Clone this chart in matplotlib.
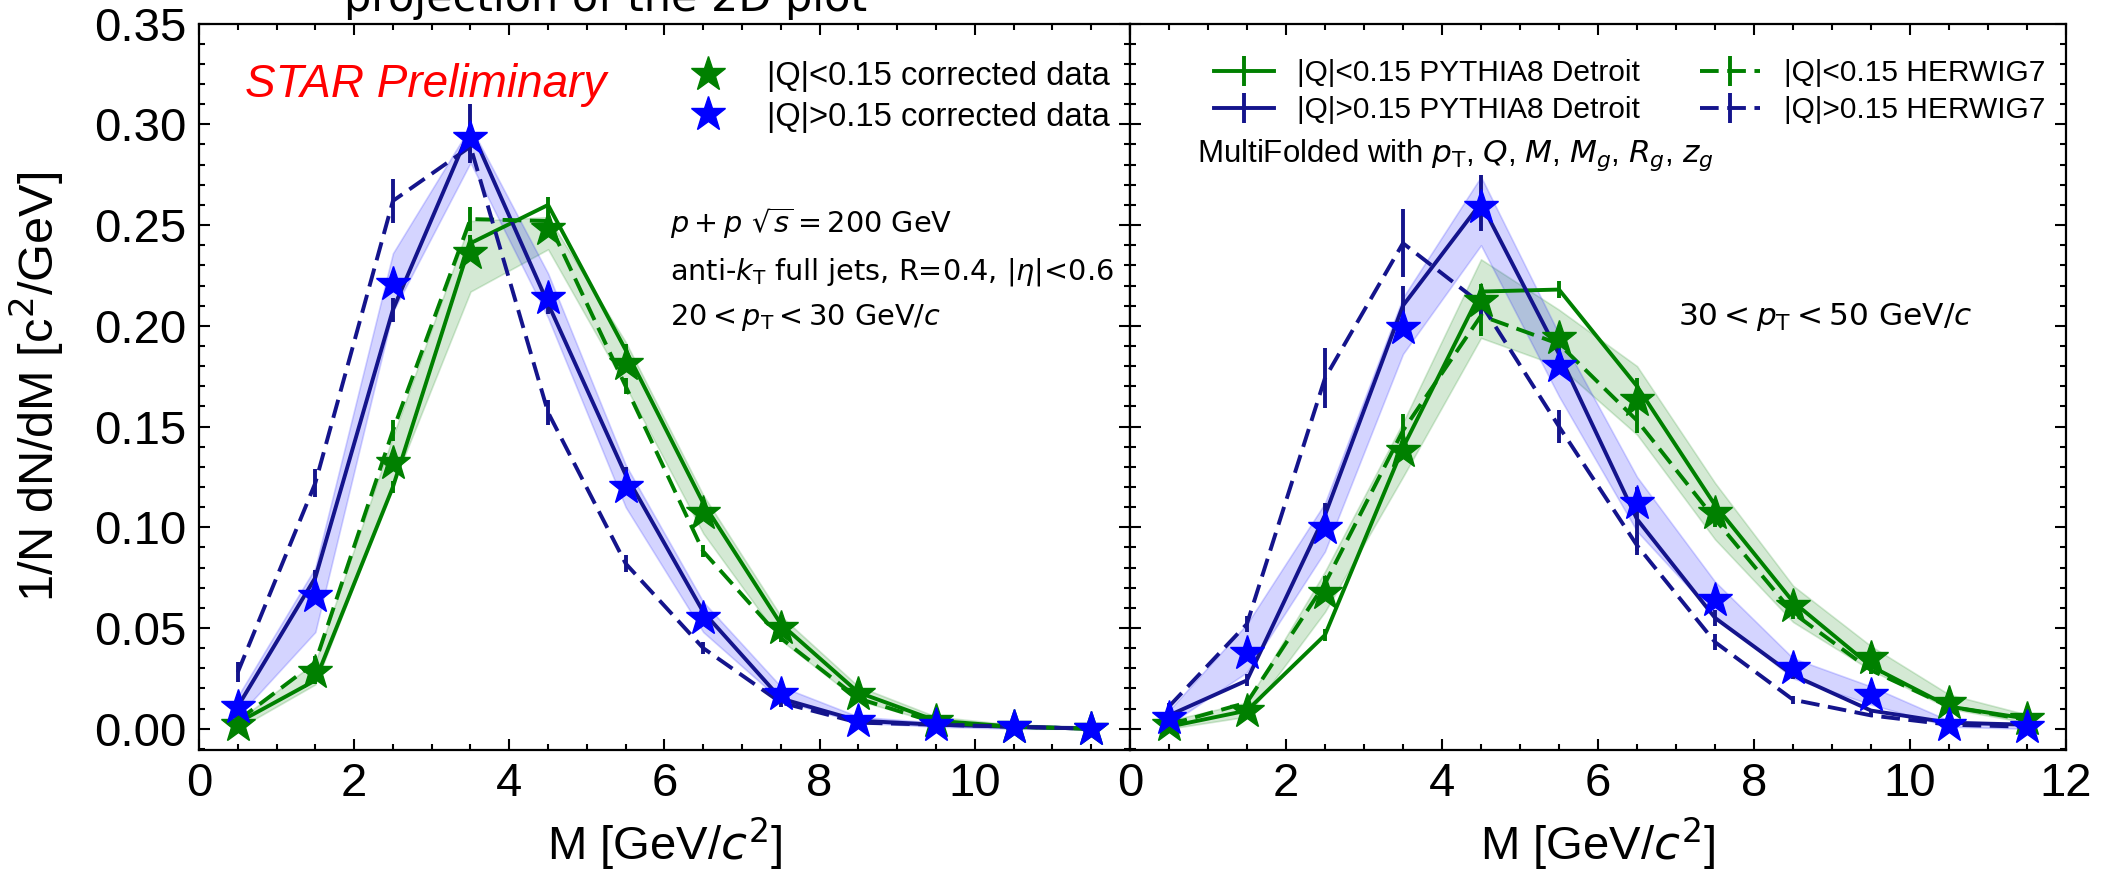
import numpy as np
import matplotlib
matplotlib.use("Agg")
import matplotlib.pyplot as plt
from matplotlib.ticker import MultipleLocator

plt.rcParams['font.family'] = ['Liberation Sans', 'DejaVu Sans']
plt.rcParams['mathtext.fontset'] = 'dejavusans'

# bin centres of M [GeV/c^2]
m_bins = [0.5, 1.5, 2.5, 3.5, 4.5, 5.5, 6.5, 7.5, 8.5, 9.5, 10.5, 11.5]

# ---- 20 < pT < 30 GeV/c ----
lo_data_20 = [0.002, 0.028, 0.132, 0.236, 0.248, 0.181, 0.107, 0.050, 0.017, 0.004, 0.001, 0.000]
lo_band_dn_20 = [0.000, 0.022, 0.121, 0.217, 0.238, 0.170, 0.097, 0.044, 0.014, 0.003, 0.000, 0.000]
lo_band_up_20 = [0.004, 0.033, 0.145, 0.252, 0.254, 0.192, 0.116, 0.056, 0.021, 0.006, 0.002, 0.001]
hi_data_20 = [0.011, 0.066, 0.221, 0.293, 0.214, 0.120, 0.055, 0.017, 0.004, 0.002, 0.001, 0.000]
hi_band_dn_20 = [0.006, 0.048, 0.207, 0.281, 0.204, 0.110, 0.048, 0.014, 0.003, 0.001, 0.000, 0.000]
hi_band_up_20 = [0.016, 0.080, 0.236, 0.299, 0.226, 0.131, 0.063, 0.021, 0.006, 0.003, 0.002, 0.001]

lo_py8_20 = [0.003, 0.024, 0.120, 0.241, 0.260, 0.188, 0.112, 0.052, 0.018, 0.004, 0.001, 0.000]
lo_py8_err_20 = [0.001, 0.002, 0.003, 0.004, 0.004, 0.003, 0.003, 0.002, 0.001, 0.001, 0.0005, 0.0003]
lo_hw7_20 = [0.004, 0.033, 0.148, 0.253, 0.252, 0.170, 0.088, 0.045, 0.015, 0.003, 0.001, 0.000]
lo_hw7_err_20 = [0.001, 0.003, 0.005, 0.006, 0.004, 0.004, 0.003, 0.002, 0.001, 0.001, 0.0005, 0.0003]
hi_py8_20 = [0.011, 0.075, 0.208, 0.298, 0.211, 0.126, 0.058, 0.015, 0.004, 0.002, 0.001, 0.000]
hi_py8_err_20 = [0.002, 0.004, 0.006, 0.012, 0.005, 0.004, 0.003, 0.002, 0.001, 0.001, 0.0005, 0.0003]
hi_hw7_20 = [0.028, 0.122, 0.262, 0.289, 0.157, 0.082, 0.040, 0.013, 0.003, 0.002, 0.001, 0.000]
hi_hw7_err_20 = [0.005, 0.007, 0.011, 0.008, 0.006, 0.004, 0.003, 0.002, 0.001, 0.001, 0.0005, 0.0003]

# ---- 30 < pT < 50 GeV/c ----
lo_data_30 = [0.002, 0.009, 0.0675, 0.138, 0.2125, 0.194, 0.163, 0.107, 0.061, 0.035, 0.013, 0.005]
lo_band_dn_30 = [0.000, 0.006, 0.058, 0.125, 0.194, 0.180, 0.146, 0.094, 0.053, 0.029, 0.010, 0.003]
lo_band_up_30 = [0.004, 0.013, 0.078, 0.152, 0.233, 0.208, 0.180, 0.122, 0.071, 0.041, 0.017, 0.007]
hi_data_30 = [0.0055, 0.0376, 0.0996, 0.199, 0.259, 0.180, 0.112, 0.064, 0.030, 0.0166, 0.002, 0.001]
hi_band_dn_30 = [0.002, 0.028, 0.088, 0.186, 0.240, 0.165, 0.098, 0.056, 0.025, 0.012, 0.001, 0.000]
hi_band_up_30 = [0.009, 0.052, 0.112, 0.214, 0.274, 0.196, 0.125, 0.073, 0.035, 0.021, 0.004, 0.002]

lo_py8_30 = [0.001, 0.009, 0.0465, 0.1395, 0.217, 0.218, 0.170, 0.111, 0.063, 0.031, 0.011, 0.005]
lo_py8_err_30 = [0.0005, 0.001, 0.003, 0.005, 0.004, 0.004, 0.004, 0.003, 0.002, 0.002, 0.001, 0.001]
lo_hw7_30 = [0.002, 0.013, 0.072, 0.148, 0.205, 0.191, 0.153, 0.104, 0.0575, 0.029, 0.011, 0.0044]
lo_hw7_err_30 = [0.001, 0.002, 0.004, 0.008, 0.010, 0.006, 0.006, 0.004, 0.003, 0.002, 0.001, 0.001]
hi_py8_30 = [0.0066, 0.024, 0.106, 0.210, 0.261, 0.186, 0.104, 0.055, 0.0266, 0.009, 0.003, 0.002]
hi_py8_err_30 = [0.001, 0.003, 0.006, 0.010, 0.014, 0.009, 0.016, 0.004, 0.002, 0.001, 0.001, 0.001]
hi_hw7_30 = [0.011, 0.052, 0.174, 0.241, 0.211, 0.150, 0.091, 0.043, 0.0144, 0.0066, 0.002, 0.001]
hi_hw7_err_30 = [0.002, 0.004, 0.015, 0.017, 0.006, 0.008, 0.005, 0.004, 0.002, 0.001, 0.001, 0.001]

GREEN = 'green'
NAVY = '#14148c'
BLUE = 'blue'

fig = plt.figure(figsize=(21.1, 8.75), dpi=100)
ax1 = fig.add_axes([0.0943, 0.143, 0.4412, 0.83])
ax2 = fig.add_axes([0.5355, 0.143, 0.4437, 0.83], sharey=ax1)


def draw_panel(ax, lo_data, lo_dn, lo_up, hi_data, hi_dn, hi_up,
               lo_py8, lo_py8_err, lo_hw7, lo_hw7_err,
               hi_py8, hi_py8_err, hi_hw7, hi_hw7_err):
    # uncertainty bands of the unfolded data
    ax.fill_between(m_bins, lo_dn, lo_up, color=GREEN, alpha=0.17, lw=1.2)
    ax.fill_between(m_bins, hi_dn, hi_up, color=BLUE, alpha=0.17, lw=1.2)
    h = {}
    # MC curves with stat. errors
    h['lo_py8'] = ax.errorbar(m_bins, lo_py8, yerr=lo_py8_err, color=GREEN, ls='-', lw=2.8, elinewidth=2.8)
    h['hi_py8'] = ax.errorbar(m_bins, hi_py8, yerr=hi_py8_err, color=NAVY, ls='-', lw=2.8, elinewidth=2.8)
    h['lo_hw7'] = ax.errorbar(m_bins, lo_hw7, yerr=lo_hw7_err, color=GREEN, ls=(0, (4.8, 2.2)), lw=2.8, elinewidth=2.8)
    h['hi_hw7'] = ax.errorbar(m_bins, hi_hw7, yerr=hi_hw7_err, color=NAVY, ls=(0, (4.8, 2.2)), lw=2.8, elinewidth=2.8)
    # data points
    h['lo_data'], = ax.plot(m_bins, lo_data, '*', color=GREEN, ms=26, ls='none', zorder=5)
    h['hi_data'], = ax.plot(m_bins, hi_data, '*', color=BLUE, ms=26, ls='none', zorder=5)
    return h


h1 = draw_panel(ax1, lo_data_20, lo_band_dn_20, lo_band_up_20, hi_data_20, hi_band_dn_20, hi_band_up_20,
                lo_py8_20, lo_py8_err_20, lo_hw7_20, lo_hw7_err_20,
                hi_py8_20, hi_py8_err_20, hi_hw7_20, hi_hw7_err_20)
h2 = draw_panel(ax2, lo_data_30, lo_band_dn_30, lo_band_up_30, hi_data_30, hi_band_dn_30, hi_band_up_30,
                lo_py8_30, lo_py8_err_30, lo_hw7_30, lo_hw7_err_30,
                hi_py8_30, hi_py8_err_30, hi_hw7_30, hi_hw7_err_30)

for ax in (ax1, ax2):
    ax.set_xlim(0, 12)
    ax.set_ylim(-0.0105, 0.35)
    ax.xaxis.set_major_locator(MultipleLocator(2))
    ax.xaxis.set_minor_locator(MultipleLocator(0.5))
    ax.yaxis.set_major_locator(MultipleLocator(0.05))
    ax.yaxis.set_minor_locator(MultipleLocator(0.01))
    ax.tick_params(which='both', direction='in', top=True, right=True, width=1.5)
    ax.tick_params(which='major', length=8, labelsize=34, pad=9)
    ax.tick_params(which='minor', length=4.5)
    for s in ax.spines.values():
        s.set_linewidth(1.6)
    ax.set_xlabel('M [GeV/$c^2$]', fontsize=34, labelpad=6)

ax1.set_xticks([0, 2, 4, 6, 8, 10])
ax1.yaxis.set_major_formatter(plt.FuncFormatter(lambda v, p: f'{v:.2f}'))
ax1.set_ylabel('1/N dN/dM [c$^2$/GeV]', fontsize=35, labelpad=20)
ax2.tick_params(labelleft=False)

# left panel texts
ax1.text(0.049, 0.899, 'STAR Preliminary', transform=ax1.transAxes, color='red',
         fontsize=33, style='italic')
ax1.legend([h1['lo_data'], h1['hi_data']],
           ['|Q|<0.15 corrected data', '|Q|>0.15 corrected data'],
           loc='upper left', bbox_to_anchor=(0.48, 0.989), frameon=False,
           fontsize=23.5, numpoints=1, labelspacing=0.3)
ax1.text(0.506, 0.712, '$p+p\\ \\sqrt{s}=200$ GeV', transform=ax1.transAxes,
         fontsize=20.7, family='DejaVu Sans')
ax1.text(0.506, 0.647, 'anti-$k_{\\mathrm{T}}$ full jets, R=0.4, $|\\eta|$<0.6', transform=ax1.transAxes,
         fontsize=20.7, family='DejaVu Sans')
ax1.text(0.506, 0.585, '$20 < p_{\\mathrm{T}} < 30$ GeV/$c$', transform=ax1.transAxes,
         fontsize=20.7, family='DejaVu Sans')

# right panel texts
ax2.legend([h2['lo_py8'], h2['hi_py8'], h2['lo_hw7'], h2['hi_hw7']],
           ['|Q|<0.15 PYTHIA8 Detroit', '|Q|>0.15 PYTHIA8 Detroit',
            '|Q|<0.15 HERWIG7', '|Q|>0.15 HERWIG7'],
           ncol=2, loc='upper left', bbox_to_anchor=(0.061, 0.988), frameon=False,
           fontsize=21.5, labelspacing=0.3)
ax2.text(0.0716, 0.81, 'MultiFolded with $p_{\\mathrm{T}}$, $Q$, $M$, $M_g$, $R_g$, $z_g$',
         transform=ax2.transAxes, fontsize=22.5)
ax2.text(0.585, 0.585, '$30 < p_{\\mathrm{T}} < 50$ GeV/$c$', transform=ax2.transAxes,
         fontsize=22.5, family='DejaVu Sans')

# cut-off caption above the figure
fig.text(0.287, 0.988, 'projection of the 2D plot', ha='center', va='baseline',
         fontsize=31, family='DejaVu Sans')

fig.savefig('out.png', dpi=100)
